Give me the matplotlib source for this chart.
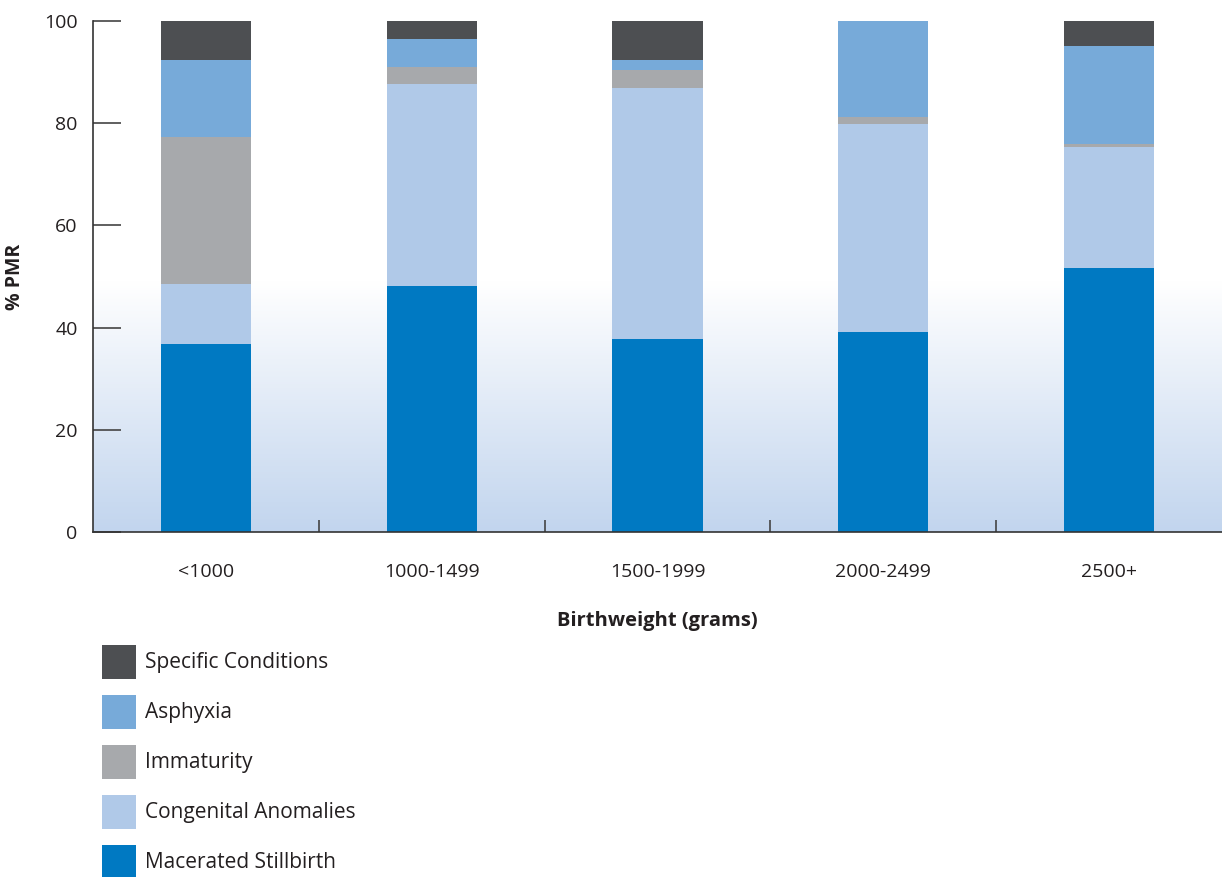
import numpy as np
import matplotlib
matplotlib.use('Agg')
import matplotlib.pyplot as plt
from matplotlib.patches import Patch
from matplotlib.colors import LinearSegmentedColormap

plt.rcParams['font.family'] = ['Open Sans', 'DejaVu Sans']

# Données (% PMR par tranche de poids de naissance)
categories = ['<1000', '1000-1499', '1500-1999', '2000-2499', '2500+']
macerated = [36.7, 48.2, 37.8, 39.1, 51.6]
congenital = [11.8, 39.4, 49.0, 40.7, 23.8]
immaturity = [28.8, 3.4, 3.7, 1.4, 0.5]
asphyxia = [15.1, 5.4, 1.9, 18.8, 19.2]
specific = [7.6, 3.6, 7.6, 0.0, 4.9]

series = [
    ('Macerated Stillbirth', macerated, '#0079C2'),
    ('Congenital Anomalies', congenital, '#B0C9E8'),
    ('Immaturity', immaturity, '#A7A9AC'),
    ('Asphyxia', asphyxia, '#77AAD9'),
    ('Specific Conditions', specific, '#4D4F52'),
]

fig = plt.figure(figsize=(12.22, 8.77), dpi=100)
ax = fig.add_axes([93 / 1222, 1 - 532 / 877, 1 - 93 / 1222, (532 - 21) / 877])

x = np.arange(len(categories))

# fond en dégradé (blanc en haut, bleu clair en bas)
cmap = LinearSegmentedColormap.from_list('bg', [(0, '#C2D5EE'), (0.49, '#FFFFFF'), (1, '#FFFFFF')])
grad = np.linspace(0, 1, 256).reshape(-1, 1)
ax.imshow(grad, cmap=cmap, origin='lower', aspect='auto',
          extent=(-0.5, len(categories) - 0.5, 0, 100), zorder=0)

bottom = np.zeros(len(categories))
for name, vals, col in series:
    ax.bar(x, vals, 0.40, bottom=bottom, color=col, zorder=2)
    bottom += np.array(vals)

ax.set_xlim(-0.5, len(categories) - 0.5)
ax.set_ylim(0, 100)

ax.spines['top'].set_visible(False)
ax.spines['right'].set_visible(False)
ax.spines['left'].set_color('#333333')
ax.spines['bottom'].set_color('#333333')
ax.spines['left'].set_linewidth(1.2)
ax.spines['bottom'].set_linewidth(1.2)

ax.set_yticks([0, 20, 40, 60, 80, 100])
ax.tick_params(axis='y', direction='in', length=20, width=1.2, color='#444444',
               labelsize=14, pad=11, labelcolor='#231f20')

ax.set_xticks(x)
ax.set_xticklabels(categories)
ax.set_xticks(x[:-1] + 0.5, minor=True)
ax.tick_params(axis='x', which='major', length=0, labelsize=14, pad=22, labelcolor='#231f20')
ax.tick_params(axis='x', which='minor', direction='in', length=9, width=1.2, color='#444444')

ax.set_xlabel('Birthweight (grams)', fontsize=14.5, fontweight='bold', labelpad=22, color='#231f20')
ax.set_ylabel('% PMR', fontsize=14, fontweight='bold', labelpad=14, color='#231f20')

handles = [Patch(facecolor=col, edgecolor='none', label=name) for name, vals, col in series[::-1]]
fig.legend(handles=handles, loc='upper left', bbox_to_anchor=(102 / 1222, 1 - 645 / 877),
           frameon=False, fontsize=15, handlelength=1.63, handleheight=2.1,
           labelspacing=0.79, handletextpad=0.43, borderpad=0, borderaxespad=0,
           labelcolor='#231f20')

plt.savefig('out.png', dpi=100)
